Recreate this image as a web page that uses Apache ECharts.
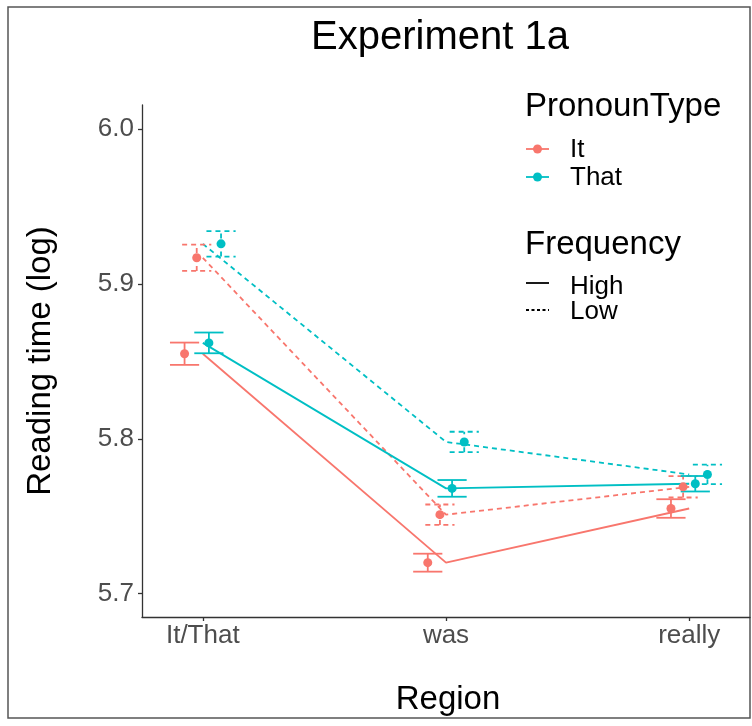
<!DOCTYPE html>
<html>
<head>
<meta charset="utf-8">
<script src="https://cdn.jsdelivr.net/npm/echarts@6/dist/echarts.min.js"></script>
<style>
html, body { margin: 0; padding: 0; background: #fff; }
#chart { width: 752px; height: 726px; }
</style>
</head>
<body>
<div id="chart"></div>
<script>
// categories and tick values
const categories = ['It/That', 'was', 'really'];
const yTicks = [5.7, 5.8, 5.9, 6.0];

// mean reading time (log) and standard error, per region
const itHighMean = [5.855, 5.720, 5.755];
const itHighSE = [0.0072, 0.0058, 0.0060];
const itLowMean = [5.917, 5.751, 5.769];
const itLowSE = [0.0085, 0.0066, 0.0069];
const thatHighMean = [5.862, 5.768, 5.771];
const thatHighSE = [0.0067, 0.0054, 0.0050];
const thatLowMean = [5.926, 5.798, 5.777];
const thatLowSE = [0.0082, 0.0066, 0.0063];

const RED = '#F8766D';
const TEAL = '#00BFC4';
const FONT = 'Liberation Sans, Arial, sans-serif';

// group: pronoun x frequency, dodged like position_dodge(0.2)
const groups = [
  { mean: itHighMean, se: itHighSE, color: RED, dashed: false, dodge: -0.075 },
  { mean: itLowMean, se: itLowSE, color: RED, dashed: true, dodge: -0.025 },
  { mean: thatHighMean, se: thatHighSE, color: TEAL, dashed: false, dodge: 0.025 },
  { mean: thatLowMean, se: thatLowSE, color: TEAL, dashed: true, dodge: 0.075 }
];

const DASH = [5, 4];
const series = [];

groups.forEach(function (g) {
  // line through category centres
  series.push({
    type: 'line',
    data: g.mean.map(function (m, i) { return [i + 1, m]; }),
    symbol: 'none',
    silent: true,
    z: 2,
    lineStyle: { color: g.color, width: 1.8, type: g.dashed ? DASH : 'solid' }
  });
  // error bars at dodged positions
  series.push({
    type: 'custom',
    silent: true,
    z: 3,
    data: g.mean.map(function (m, i) {
      return [i + 1 + g.dodge, m - g.se[i], m + g.se[i]];
    }),
    encode: { x: 0, y: [1, 2] },
    renderItem: function (params, api) {
      const x = api.value(0);
      const lo = api.coord([x, api.value(1)]);
      const hi = api.coord([x, api.value(2)]);
      const half = api.size([0.06, 0])[0];
      const style = { stroke: g.color, lineWidth: 1.8, lineDash: g.dashed ? DASH : null, fill: null };
      return {
        type: 'group',
        children: [
          { type: 'line', shape: { x1: lo[0], y1: lo[1], x2: hi[0], y2: hi[1] }, style: style },
          { type: 'line', shape: { x1: lo[0] - half, y1: lo[1], x2: lo[0] + half, y2: lo[1] }, style: style },
          { type: 'line', shape: { x1: hi[0] - half, y1: hi[1], x2: hi[0] + half, y2: hi[1] }, style: style }
        ]
      };
    }
  });
  // mean points
  series.push({
    type: 'scatter',
    data: g.mean.map(function (m, i) { return [i + 1 + g.dodge, m]; }),
    symbol: 'circle',
    symbolSize: 9,
    silent: true,
    z: 4,
    itemStyle: { color: g.color, opacity: 1 }
  });
});

function legendText(text, x, y, size) {
  return {
    type: 'text', left: x, top: y,
    style: { text: text, x: 0, y: 0, fill: '#000', font: size + 'px ' + FONT, textAlign: 'left', textVerticalAlign: 'middle' }
  };
}

const chart = echarts.init(document.getElementById('chart'));
chart.setOption({
  animation: false,
  backgroundColor: '#fff',
  grid: { left: 142, right: 2, top: 105, bottom: 109, outerBoundsMode: 'none' },
  xAxis: {
    type: 'value',
    min: 0.75,
    max: 3.25,
    splitLine: { show: false },
    axisLine: { show: true, lineStyle: { color: '#333', width: 1.3 } },
    axisTick: { show: true, customValues: [1, 2, 3], length: 4, lineStyle: { color: '#333', width: 1.3 } },
    axisLabel: {
      customValues: [1, 2, 3],
      margin: 6,
      color: '#4D4D4D',
      fontSize: 26,
      fontFamily: FONT,
      formatter: function (v) { return categories[Math.round(v) - 1]; }
    }
  },
  yAxis: {
    type: 'value',
    min: 5.6849,
    max: 6.0157,
    splitLine: { show: false },
    axisLine: { show: true, lineStyle: { color: '#333', width: 1.3 } },
    axisTick: { show: true, customValues: yTicks, length: 4, lineStyle: { color: '#333', width: 1.3 } },
    axisLabel: {
      customValues: yTicks,
      margin: 8,
      color: '#4D4D4D',
      fontSize: 26,
      fontFamily: FONT,
      formatter: function (v) { return v.toFixed(1); }
    }
  },
  series: series,
  graphic: [
    // frame
    { type: 'rect', shape: { x: 8, y: 7, width: 742, height: 711 }, style: { fill: null, stroke: '#555', lineWidth: 1.5 }, silent: true },
    // title
    { type: 'text', x: 440, y: 38, style: { text: 'Experiment 1a', fill: '#000', font: '40px ' + FONT, textAlign: 'center', textVerticalAlign: 'middle' } },
    // axis titles
    { type: 'text', x: 41, y: 361, rotation: Math.PI / 2, style: { text: 'Reading time (log)', fill: '#000', font: '33px ' + FONT, textAlign: 'center', textVerticalAlign: 'middle' } },
    { type: 'text', x: 448, y: 700, style: { text: 'Region', fill: '#000', font: '33px ' + FONT, textAlign: 'center', textVerticalAlign: 'middle' } },
    // legend: PronounType
    { type: 'text', x: 525, y: 107, style: { text: 'PronounType', fill: '#000', font: '33px ' + FONT, textAlign: 'left', textVerticalAlign: 'middle' } },
    { type: 'line', shape: { x1: 526, y1: 149, x2: 549, y2: 149 }, style: { stroke: RED, lineWidth: 1.8 } },
    { type: 'circle', shape: { cx: 537.5, cy: 149, r: 4.5 }, style: { fill: RED } },
    { type: 'text', x: 570, y: 150, style: { text: 'It', fill: '#000', font: '26px ' + FONT, textAlign: 'left', textVerticalAlign: 'middle' } },
    { type: 'line', shape: { x1: 526, y1: 177, x2: 549, y2: 177 }, style: { stroke: TEAL, lineWidth: 1.8 } },
    { type: 'circle', shape: { cx: 537.5, cy: 177, r: 4.5 }, style: { fill: TEAL } },
    { type: 'text', x: 570, y: 178, style: { text: 'That', fill: '#000', font: '26px ' + FONT, textAlign: 'left', textVerticalAlign: 'middle' } },
    // legend: Frequency
    { type: 'text', x: 525, y: 245, style: { text: 'Frequency', fill: '#000', font: '33px ' + FONT, textAlign: 'left', textVerticalAlign: 'middle' } },
    { type: 'line', shape: { x1: 526, y1: 283, x2: 549, y2: 283 }, style: { stroke: '#000', lineWidth: 1.8 } },
    { type: 'text', x: 570, y: 287, style: { text: 'High', fill: '#000', font: '26px ' + FONT, textAlign: 'left', textVerticalAlign: 'middle' } },
    { type: 'line', shape: { x1: 526, y1: 310, x2: 549, y2: 310 }, style: { stroke: '#000', lineWidth: 1.8, lineDash: [3, 2.5] } },
    { type: 'text', x: 570, y: 312, style: { text: 'Low', fill: '#000', font: '26px ' + FONT, textAlign: 'left', textVerticalAlign: 'middle' } }
  ]
});
</script>
</body>
</html>
